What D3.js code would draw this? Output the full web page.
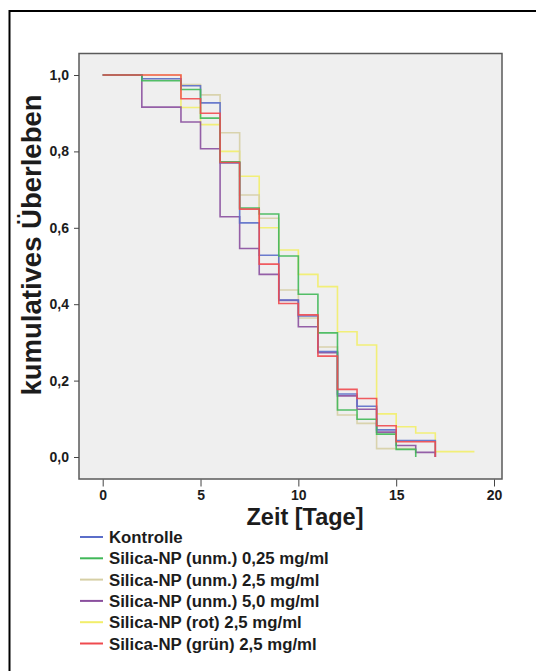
<!DOCTYPE html>
<html>
<head>
<meta charset="utf-8">
<script src="https://cdn.jsdelivr.net/npm/d3@7"></script>
<style>
  html, body { margin: 0; padding: 0; background: #ffffff; }
  svg { display: block; }
  text { font-family: "Liberation Sans", Arial, sans-serif; font-weight: bold; fill: #1c1c1c; }
</style>
</head>
<body>
<svg id="chart" width="536" height="671"></svg>
<script>
// ---- Data (step values for the interval [day, day+1), starting at day 0) ----
const seriesNames = [
  "Kontrolle",
  "Silica-NP (unm.) 0,25 mg/ml",
  "Silica-NP (unm.) 2,5 mg/ml",
  "Silica-NP (unm.) 5,0 mg/ml",
  "Silica-NP (rot) 2,5 mg/ml",
  "Silica-NP (grün) 2,5 mg/ml"
];
const seriesColors = ["#5b6ec9", "#40b858", "#d6cfa5", "#8a4f9e", "#f2ee6a", "#ef4a4f"];

const kontrolle = [1.0, 1.0, 0.99, 0.99, 0.972, 0.927, 0.77, 0.613, 0.528, 0.411, 0.369, 0.276, 0.165, 0.133, 0.071, 0.043, 0.043];
const unm025    = [1.0, 1.0, 0.985, 0.985, 0.962, 0.887, 0.773, 0.652, 0.636, 0.526, 0.426, 0.325, 0.123, 0.099, 0.06, 0.02];
const unm25     = [1.0, 1.0, 0.99, 0.99, 0.975, 0.948, 0.849, 0.686, 0.625, 0.437, 0.364, 0.288, 0.11, 0.088, 0.022, 0.022];
const unm50     = [1.0, 1.0, 0.916, 0.916, 0.877, 0.807, 0.629, 0.546, 0.478, 0.41, 0.341, 0.273, 0.16, 0.125, 0.065, 0.03, 0.012];
const rot25     = [1.0, 1.0, 1.0, 1.0, 0.915, 0.87, 0.80, 0.735, 0.60, 0.542, 0.478, 0.446, 0.328, 0.293, 0.113, 0.079, 0.063, 0.014, 0.014];
const gruen25   = [1.0, 1.0, 1.0, 1.0, 0.938, 0.90, 0.771, 0.649, 0.505, 0.402, 0.372, 0.264, 0.177, 0.153, 0.082, 0.04, 0.04];

// final survival value at the end of follow-up (null = curve simply ends)
const endValues = [0, 0, null, 0, null, 0];

const allSeries = [kontrolle, unm025, unm25, unm50, rot25, gruen25];
const drawOrder = [4, 2, 3, 0, 1, 5];

const xTicks = [0, 5, 10, 15, 20];
const yTicks = [0, 0.2, 0.4, 0.6, 0.8, 1.0];
const yTickLabels = ["0,0", "0,2", "0,4", "0,6", "0,8", "1,0"];
const xTitle = "Zeit [Tage]";
const yTitle = "kumulatives Überleben";

// ---- Layout ----
const svg = d3.select("#chart");
const plot = { left: 79, right: 502, top: 53.5, bottom: 479 };

const x = d3.scaleLinear().domain([0, 20]).range([102.7, 494]);
const y = d3.scaleLinear().domain([0, 1]).range([457, 75]);

// outer frame
svg.append("rect")
  .attr("x", 9.5).attr("y", 11).attr("width", 560).attr("height", 700)
  .attr("fill", "none").attr("stroke", "#000").attr("stroke-width", 2);

// plot area
svg.append("rect")
  .attr("x", plot.left).attr("y", plot.top)
  .attr("width", plot.right - plot.left).attr("height", plot.bottom - plot.top)
  .attr("fill", "#efefef").attr("stroke", "#5a5a5a").attr("stroke-width", 1.5);

// axes
const yAxis = d3.axisLeft(y).tickValues(yTicks)
  .tickFormat((d, i) => yTickLabels[i]).tickSize(5).tickPadding(5);
const gy = svg.append("g").attr("transform", `translate(${plot.left},0)`).call(yAxis);
gy.select(".domain").remove();
gy.selectAll("line").attr("stroke", "#444");
gy.selectAll("text").style("font-size", "14px").style("fill", "#1c1c1c");

const xAxis = d3.axisBottom(x).tickValues(xTicks).tickSize(7).tickPadding(4);
const gx = svg.append("g").attr("transform", `translate(0,${plot.bottom + 0.5})`).call(xAxis);
gx.select(".domain").remove();
gx.selectAll("line").attr("stroke", "#444");
gx.selectAll("text").style("font-size", "14px").style("fill", "#1c1c1c");

// axis titles
svg.append("text")
  .attr("x", 305).attr("y", 525)
  .attr("text-anchor", "middle")
  .style("font-size", "23.5px")
  .text(xTitle);

svg.append("text")
  .attr("transform", "translate(41,245) rotate(-90)")
  .attr("text-anchor", "middle")
  .style("font-size", "27.5px")
  .text(yTitle);

// curves
const line = d3.line()
  .x(d => x(d[0])).y(d => y(d[1]))
  .curve(d3.curveStepAfter);

drawOrder.forEach(si => {
  const vals = allSeries[si];
  const pts = vals.map((v, i) => [i, v]);
  const endDay = vals.length;
  pts.push([endDay, vals[vals.length - 1]]);
  let path = line(pts);
  if (endValues[si] !== null) {
    path += `L${x(endDay)},${y(endValues[si])}`;
  }
  svg.append("path")
    .attr("d", path)
    .attr("fill", "none")
    .attr("stroke", seriesColors[si])
    .attr("stroke-width", 1.6)
    .attr("stroke-opacity", 0.9);
});

// legend
const lg = svg.append("g");
seriesNames.forEach((name, i) => {
  const cy = 537 + i * 21.3;
  lg.append("line")
    .attr("x1", 80).attr("x2", 103)
    .attr("y1", cy).attr("y2", cy)
    .attr("stroke", seriesColors[i]).attr("stroke-width", 2);
  lg.append("text")
    .attr("x", 109).attr("y", cy + 6)
    .style("font-size", "16.8px")
    .text(name);
});
</script>
</body>
</html>
